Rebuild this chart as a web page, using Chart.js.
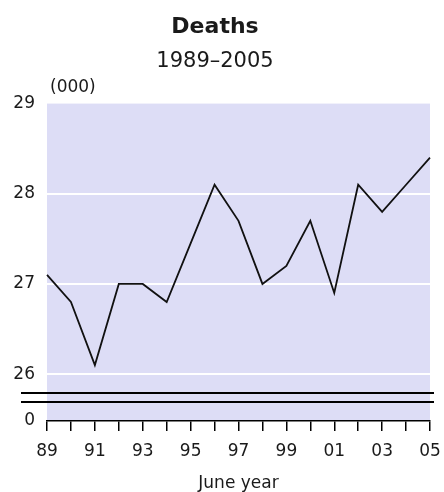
<!DOCTYPE html>
<html>
<head>
<meta charset="utf-8">
<script src="https://cdn.jsdelivr.net/npm/chart.js@4/dist/chart.umd.min.js"></script>
<style>
  html, body { margin: 0; padding: 0; background: #fff; }
  #wrap { width: 444px; height: 492px; }
</style>
</head>
<body>
<div id="wrap"><canvas id="c" width="444" height="492"></canvas></div>
<script>
// ---- data ----
const categories = ['89','90','91','92','93','94','95','96','97','98','99','00','01','02','03','04','05'];
const deaths = [27.1, 26.8, 26.1, 27.0, 27.0, 26.8, 27.45, 28.1, 27.7, 27.0, 27.2, 27.7, 26.9, 28.1, 27.8, 28.1, 28.4];
const yTickValues = [26, 27, 28, 29];
const yAxisZero = 25.48;          // where the broken axis shows "0"
const yAxisZeroLabel = '0';
const breakValues = [25.79, 25.69]; // the two axis-break lines
const titleText = 'Deaths';
const subtitleText = '1989\u20132005';
const unitText = '(000)';
const xTitleText = 'June year';

const FONT = "'DejaVu Sans', 'Liberation Sans', sans-serif";
const TXT = '#1a1a1a';
const PLOT_BG = 'rgb(221,221,246)';

const decor = {
  id: 'decor',
  beforeDraw(chart) {
    const a = chart.chartArea, ctx = chart.ctx;
    ctx.save();
    ctx.fillStyle = PLOT_BG;
    ctx.fillRect(a.left, a.top, a.right - a.left, a.bottom - a.top);
    ctx.restore();
  },
  afterDraw(chart) {
    const a = chart.chartArea, ctx = chart.ctx, y = chart.scales.y;
    ctx.save();
    ctx.strokeStyle = '#000';
    ctx.lineWidth = 2;
    breakValues.forEach(v => {
      const py = Math.round(y.getPixelForValue(v));
      ctx.beginPath();
      ctx.moveTo(a.left - 26, py);
      ctx.lineTo(a.right + 4, py);
      ctx.stroke();
    });
    ctx.fillStyle = TXT;
    ctx.font = "17px " + FONT;
    ctx.textAlign = 'left';
    ctx.textBaseline = 'middle';
    ctx.fillText(unitText, a.left + 3, a.top - 16);
    ctx.restore();
  }
};

new Chart(document.getElementById('c'), {
  type: 'line',
  data: {
    labels: categories,
    datasets: [{
      data: deaths,
      borderColor: '#111',
      borderWidth: 1.8,
      pointRadius: 0,
      tension: 0,
      fill: false
    }]
  },
  options: {
    responsive: false,
    animation: false,
    devicePixelRatio: 1,
    layout: { padding: { top: 0, right: 14, bottom: 0, left: 0 } },
    plugins: {
      legend: { display: false },
      tooltip: { enabled: false },
      title: {
        display: true, text: titleText, color: TXT,
        font: { family: FONT, size: 22, weight: 'bold' },
        padding: { top: 14, bottom: 4 }
      },
      subtitle: {
        display: true, text: subtitleText, color: TXT,
        font: { family: FONT, size: 21, weight: 'normal' },
        padding: { top: 5, bottom: 29 }
      }
    },
    scales: {
      x: {
        type: 'category',
        offset: false,
        grid: {
          drawOnChartArea: false, drawTicks: true, tickLength: 10,
          color: '#000', lineWidth: 1.5
        },
        border: { display: true, color: '#000', width: 1.5 },
        ticks: {
          autoSkip: false, maxRotation: 0, minRotation: 0, padding: 10,
          color: TXT, font: { family: FONT, size: 17 },
          callback: (v, i) => (i % 2 === 0 ? categories[i] : '')
        },
        title: {
          display: true, text: xTitleText, color: TXT,
          font: { family: FONT, size: 17, lineHeight: 1 },
          padding: { top: 0, bottom: 0 }
        },
        afterFit(s) { s.height = 71; s.paddingLeft = 0; s.paddingRight = 0; }
      },
      y: {
        type: 'linear',
        min: yAxisZero,
        max: 29,
        afterBuildTicks(s) {
          s.ticks = [yAxisZero, ...yTickValues].map(v => ({ value: v }));
        },
        grid: {
          drawTicks: false, tickLength: 0,
          lineWidth: 2,
          color: (c) => (c.tick && c.tick.value >= 26 && c.tick.value < 29) ? '#ffffff' : 'rgba(0,0,0,0)'
        },
        border: { display: false },
        ticks: {
          padding: 12, color: TXT, font: { family: FONT, size: 17 },
          callback: (v) => (v === yAxisZero ? yAxisZeroLabel : String(v))
        },
        afterFit(s) { s.width = 47; }
      }
    }
  },
  plugins: [decor]
});
</script>
</body>
</html>
